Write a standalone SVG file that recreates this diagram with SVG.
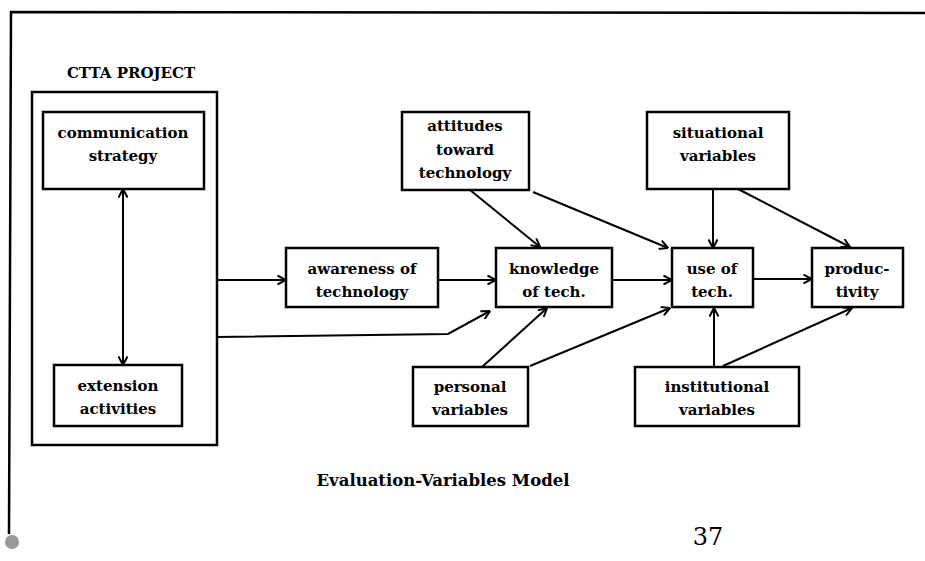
<svg xmlns="http://www.w3.org/2000/svg" width="925" height="561" viewBox="0 0 925 561">
<style>
.box{fill:#fff;stroke:#000;stroke-width:2.5}
.t{font-family:"DejaVu Serif","Liberation Serif",serif;font-weight:bold;font-size:15px;fill:#000;text-anchor:middle}
.c{fill:none;stroke:#000;stroke-width:2}
</style>
<defs>
<marker id="arr" viewBox="0 0 10 10" refX="9.5" refY="5" markerWidth="10" markerHeight="10" markerUnits="userSpaceOnUse" orient="auto-start-reverse">
<path d="M1,0.5 L9.5,5 L1,9.5" fill="none" stroke="#000" stroke-width="2"/>
</marker>
</defs>
<rect width="925" height="561" fill="#fff"/>
<g id="frame">
<path d="M925,13 L11,12 L9,534" fill="none" stroke="#000" stroke-width="2.5"/>
<circle cx="12" cy="542" r="7" fill="#999"/>
</g>
<g id="ctta">
<text class="t" x="131" y="78" style="font-size:15px">CTTA PROJECT</text>
<rect class="box" x="32" y="92" width="185" height="353"/>
</g>
<g id="communication">
<rect class="box" x="43" y="112" width="161" height="77"/>
<text class="t" x="123" y="138">communication</text>
<text class="t" x="123" y="161">strategy</text>
</g>
<g id="extension">
<rect class="box" x="54" y="365" width="128" height="61"/>
<text class="t" x="118" y="391">extension</text>
<text class="t" x="118" y="414">activities</text>
</g>
<g id="awareness">
<rect class="box" x="286" y="248" width="152" height="59"/>
<text class="t" x="362" y="274">awareness of</text>
<text class="t" x="362" y="297">technology</text>
</g>
<g id="knowledge">
<rect class="box" x="496" y="248" width="116" height="59"/>
<text class="t" x="554" y="274">knowledge</text>
<text class="t" x="554" y="297">of tech.</text>
</g>
<g id="attitudes">
<rect class="box" x="402" y="112" width="127" height="78"/>
<text class="t" x="465" y="131">attitudes</text>
<text class="t" x="465" y="155">toward</text>
<text class="t" x="465" y="178">technology</text>
</g>
<g id="situational">
<rect class="box" x="647" y="112" width="142" height="77"/>
<text class="t" x="718" y="138">situational</text>
<text class="t" x="718" y="161">variables</text>
</g>
<g id="use">
<rect class="box" x="672" y="248" width="81" height="59"/>
<text class="t" x="712" y="274">use of</text>
<text class="t" x="712" y="297">tech.</text>
</g>
<g id="productivity">
<rect class="box" x="812" y="248" width="91" height="59"/>
<text class="t" x="857" y="274">produc-</text>
<text class="t" x="857" y="297">tivity</text>
</g>
<g id="personal">
<rect class="box" x="413" y="367" width="115" height="59"/>
<text class="t" x="470" y="392">personal</text>
<text class="t" x="470" y="415">variables</text>
</g>
<g id="institutional">
<rect class="box" x="635" y="367" width="164" height="59"/>
<text class="t" x="717" y="392">institutional</text>
<text class="t" x="717" y="415">variables</text>
</g>
<g id="connectors">
<line class="c" x1="123" y1="189" x2="123" y2="365" marker-start="url(#arr)" marker-end="url(#arr)"/>
<line class="c" x1="217" y1="280" x2="286" y2="280" marker-end="url(#arr)"/>
<polyline class="c" points="217,337 448,334 490,311" marker-end="url(#arr)"/>
<line class="c" x1="438" y1="280" x2="496" y2="280" marker-end="url(#arr)"/>
<line class="c" x1="470" y1="190" x2="540" y2="247" marker-end="url(#arr)"/>
<line class="c" x1="533" y1="192" x2="668" y2="248" marker-end="url(#arr)"/>
<line class="c" x1="713" y1="189" x2="713" y2="248" marker-end="url(#arr)"/>
<line class="c" x1="738" y1="189" x2="850" y2="247" marker-end="url(#arr)"/>
<line class="c" x1="612" y1="280" x2="672" y2="280" marker-end="url(#arr)"/>
<line class="c" x1="753" y1="279" x2="812" y2="279" marker-end="url(#arr)"/>
<line class="c" x1="482" y1="367" x2="547" y2="308" marker-end="url(#arr)"/>
<line class="c" x1="530" y1="366" x2="670" y2="308" marker-end="url(#arr)"/>
<line class="c" x1="714" y1="367" x2="714" y2="308" marker-end="url(#arr)"/>
<line class="c" x1="723" y1="366" x2="852" y2="308" marker-end="url(#arr)"/>
</g>
<g id="caption">
<text class="t" x="443" y="486" style="font-size:16.5px">Evaluation-Variables Model</text>
<text class="t" x="708" y="545" style="font-size:24px;font-weight:normal">37</text>
</g>
</svg>
